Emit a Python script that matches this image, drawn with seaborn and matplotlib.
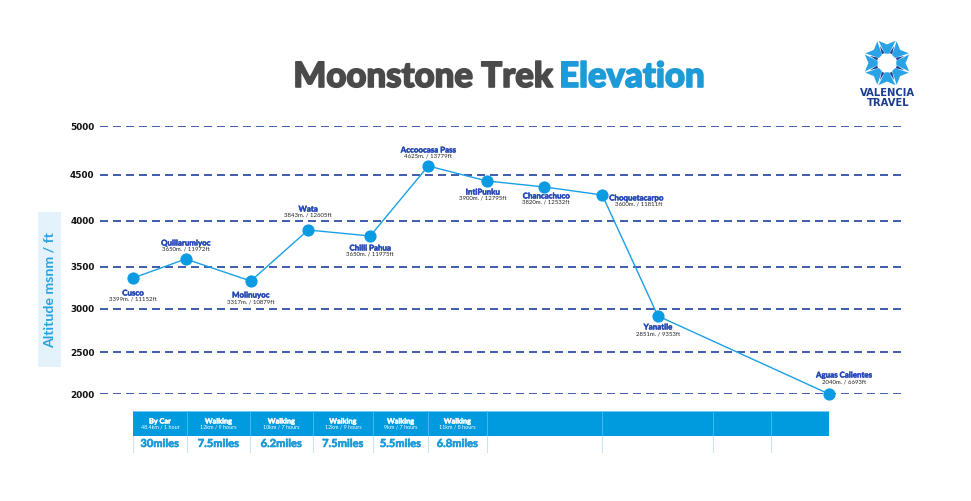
import numpy as np
import pandas as pd
import matplotlib
matplotlib.use("Agg")
import matplotlib.pyplot as plt
import matplotlib.patheffects as pe
import seaborn as sns
from matplotlib.patches import Rectangle, Polygon

# ---------------- data ----------------
stops = ["Cusco", "Quillarumiyoc", "Molinuyoc", "Wata", "Chilli Pahua",
         "Accoocasa Pass", "IntiPunku", "Chancachuco", "Choquetacarpo",
         "Yanatile", "Aguas Calientes"]
stage_pos = [0, 0.91, 2.03, 3.02, 4.09, 5.09, 6.10, 7.09, 8.09, 9.05, 12.0]
elev_plot = [3369, 3587, 3333, 3902, 3837, 4592, 4435, 4370, 4283, 2919, 2000]
elev_label = ["3399m. / 11152ft", "3650m. / 11972ft", "3317m. / 10879ft",
              "3843m. / 12605ft", "3650m. / 11975ft", "4625m. / 13779ft",
              "3900m. / 12795ft", "3820m. / 12532ft", "3600m. / 11811ft",
              "2851m. / 9353ft", "2040m. / 6693ft"]
y_ticks = [2000, 2500, 3000, 3500, 4000, 4500, 5000]
leg_mode = ["By Car", "Walking", "Walking", "Walking", "Walking", "Walking"]
leg_detail = ["48.4km / 1 hour", "12km / 9 hours", "10km / 7 hours",
              "12km / 9 hours", "9km / 7 hours", "11km / 8 hours"]
leg_miles = ["30miles", "7.5miles", "6.2miles", "7.5miles", "5.5miles", "6.8miles"]

df = pd.DataFrame({"pos": stage_pos, "elev": elev_plot})

# ---------------- style ----------------
sns.set_style("white")
plt.rcParams["font.family"] = ["Lato", "DejaVu Sans"]

W, H = 971, 501
fig = plt.figure(figsize=(W / 100, H / 100), dpi=100)
fig.patch.set_facecolor("white")

def fx(px):
    return px / W

def fy(py):
    return (H - py) / H

def thick(color, lw):
    return [pe.withStroke(linewidth=lw, foreground=color)]

LINE_BLUE = "#1aa0e6"
DOT_BLUE = "#0b9be2"
NAVY = "#1f3f9e"
NAME_BLUE = "#2447b5"
TITLE_GRAY = "#4a4a4a"
TITLE_BLUE = "#1d9ad8"
BAND_BLUE = "#009bde"

# main axes
ax = fig.add_axes([fx(100), fy(394), fx(905) - fx(100), fy(126) - fy(394)])
ax.set_facecolor("white")

# nonlinear vertical spacing of the gridlines, as in the reference
grid_h = np.array([0, 42, 85, 127, 173, 219, 268], float)
tick_arr = np.array(y_ticks, float)

def fwd(v):
    v = np.asarray(v, float)
    out = np.interp(v, tick_arr, grid_h)
    out = np.where(v < tick_arr[0], (v - tick_arr[0]) * 42 / 500, out)
    out = np.where(v > tick_arr[-1], grid_h[-1] + (v - tick_arr[-1]) * 49 / 500, out)
    return out

def inv(p):
    p = np.asarray(p, float)
    out = np.interp(p, grid_h, tick_arr)
    out = np.where(p < 0, tick_arr[0] + p * 500 / 42, out)
    out = np.where(p > grid_h[-1], tick_arr[-1] + (p - grid_h[-1]) * 500 / 49, out)
    return out

ax.set_yscale("function", functions=(fwd, inv))
ax.set_ylim(2000, 5000)
ax.set_xlim(-33 / 58, 772 / 58)

for t in y_ticks:
    ax.axhline(t, color=NAVY, lw=1.2, dashes=(4.8, 3.0), zorder=1)

sns.lineplot(data=df, x="pos", y="elev", sort=False, ax=ax, color=LINE_BLUE,
             lw=1.0, marker="o", markersize=8.8, markerfacecolor=DOT_BLUE,
             markeredgewidth=0, zorder=3, clip_on=False)

ax.set_yticks(y_ticks)
ax.set_yticklabels([str(t) for t in y_ticks], fontsize=6.4, fontweight="bold",
                   color="#111111", family="DejaVu Sans")
ax.tick_params(axis="y", length=0, pad=4)
ax.set_xticks([])
ax.set_xlabel("")
ax.set_ylabel("")
for s in ax.spines.values():
    s.set_visible(False)

# point labels: (dx, dy_name, dy_value, dx_value, ha)
label_layout = [
    (0, -15, -21, 0, "center"),
    (0, 16, 10, 0, "center"),
    (0, -14, -21, 0, "center"),
    (0, 21, 15, 0, "center"),
    (0, -12, -18, 0, "center"),
    (0, 16, 10, 0, "center"),
    (-4, -11, -17, -4, "center"),
    (2, -9, -15, 2, "center"),
    (7, -3, -9, 13, "left"),
    (0, -11, -18, 0, "center"),
    (15, 19, 12, 15, "center"),
]
for name, val, x, y, (dx, dyn, dyv, dxv, ha) in zip(stops, elev_label, stage_pos, elev_plot, label_layout):
    ax.annotate(name, (x, y), xytext=(dx, dyn), textcoords="offset pixels",
                ha=ha, va="center", fontsize=5.7, fontweight="bold", color=NAME_BLUE,
                annotation_clip=False, zorder=5, path_effects=thick(NAME_BLUE, 0.3))
    ax.annotate(val, (x, y), xytext=(dxv, dyv), textcoords="offset pixels",
                ha=ha, va="center", fontsize=4.3, color="#222222",
                annotation_clip=False, zorder=5)

# y label with light box
fig.patches.append(Rectangle((fx(38), fy(367)), fx(61) - fx(38), fy(212) - fy(367),
                             transform=fig.transFigure, facecolor="#e3f2fb",
                             edgecolor="none", zorder=0))
fig.text(fx(49.5), fy(290), "Altitude msnm / ft", rotation=90, ha="center", va="center",
         fontsize=10.2, fontweight="bold", color="#29a3e0")

# ---------------- bottom table ----------------
tax = fig.add_axes([fx(100), fy(453), fx(905) - fx(100), fy(411) - fy(453)])
tax.set_xlim(ax.get_xlim())
tax.set_ylim(0, 42)
tax.axis("off")
edges = [0, 0.93, 2.02, 3.10, 4.14, 5.09, 6.10, 8.09, 10.0, 11.0, 12.0]
tax.add_patch(Rectangle((edges[0], 17), edges[-1] - edges[0], 25,
                        facecolor=BAND_BLUE, edgecolor="none"))
tax.plot([edges[0], edges[-1]], [41.7, 41.7], color="#8fd3f4", lw=0.6)
for e in edges[1:-1]:
    tax.plot([e, e], [17, 42], color="#45b8ee", lw=0.7)
for e in edges[:-1]:
    tax.plot([e, e], [0, 17], color="#c4e8f8", lw=0.8)
for i, (m, d, mi) in enumerate(zip(leg_mode, leg_detail, leg_miles)):
    cx = (edges[i] + edges[i + 1]) / 2
    tax.text(cx, 32, m, ha="center", va="center", fontsize=5.3, fontweight="bold",
             color="white", path_effects=thick("white", 0.3))
    tax.text(cx, 26, d, ha="center", va="center", fontsize=3.9, color="white")
    tax.text(cx, 9.5, mi, ha="center", va="center", fontsize=8, fontweight="bold",
             color=TITLE_BLUE, path_effects=thick(TITLE_BLUE, 0.4))

# ---------------- title ----------------
fig.canvas.draw()
r = fig.canvas.get_renderer()
t1 = fig.text(0, fy(87), "Moonstone Trek ", ha="left", va="baseline", fontsize=25,
              fontweight="black", color=TITLE_GRAY, path_effects=thick(TITLE_GRAY, 1.2))
t2 = fig.text(0, fy(87), "Elevation", ha="left", va="baseline", fontsize=25,
              fontweight="black", color=TITLE_BLUE, path_effects=thick(TITLE_BLUE, 1.2))
w1 = t1.get_window_extent(r).width
w2 = t2.get_window_extent(r).width
x0 = 500 - (w1 + w2) / 2
t1.set_x(x0 / W)
t2.set_x((x0 + w1 - 2) / W)

# ---------------- logo ----------------
lax = fig.add_axes([fx(862), fy(88), fx(912) - fx(862), fy(38) - fy(88)])
lax.set_xlim(-1.05, 1.05)
lax.set_ylim(-1.05, 1.05)
lax.set_aspect("equal")
lax.axis("off")
for k in range(8):
    th = np.deg2rad(90 + k * 45)
    def P(rad, dth):
        a = th + np.deg2rad(dth)
        return (rad * np.cos(a), rad * np.sin(a))
    blade = [P(0.4, -13), P(1.0, -21), P(0.78, 0), P(1.0, 21), P(0.4, 13)]
    lax.add_patch(Polygon(blade, closed=True, facecolor="#2aa3e6", edgecolor="none"))
    tri = [P(0.43, 22.5 - 8), P(0.78, 22.5), P(0.43, 22.5 + 8)]
    lax.add_patch(Polygon(tri, closed=True, facecolor="#1d3f94", edgecolor="none"))
fig.text(fx(888), fy(93), "VALENCIA", ha="center", va="center", fontsize=7.2,
         fontweight="bold", color="#1b3c8f", family="DejaVu Sans")
fig.text(fx(888), fy(103), "TRAVEL", ha="center", va="center", fontsize=7.2,
         fontweight="bold", color="#1b3c8f", family="DejaVu Sans")

fig.savefig("out.png", dpi=100, facecolor="white")
